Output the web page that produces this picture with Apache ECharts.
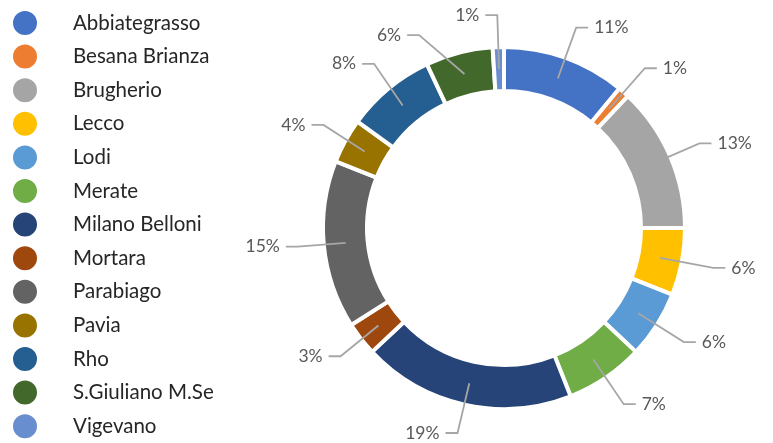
<!DOCTYPE html>
<html>
<head>
<meta charset="utf-8">
<script src="https://cdn.jsdelivr.net/npm/echarts@6/dist/echarts.min.js"></script>
<style>
  html, body { margin: 0; padding: 0; background: #ffffff; }
  #chart { width: 773px; height: 443px; }
</style>
</head>
<body>
<div id="chart"></div>
<script>
// Share of records per site (percent)
const categories = [
  'Abbiategrasso', 'Besana Brianza', 'Brugherio', 'Lecco', 'Lodi', 'Merate',
  'Milano Belloni', 'Mortara', 'Parabiago', 'Pavia', 'Rho', 'S.Giuliano M.Se', 'Vigevano'
];
const shares = [11, 1, 13, 6, 6, 7, 19, 3, 15, 4, 8, 6, 1];

const palette = [
  '#4472C4', '#ED7D31', '#A5A5A5', '#FFC000', '#5B9BD5', '#70AD47',
  '#264478', '#9E480E', '#636363', '#997300', '#255E91', '#43682B', '#698ED0'
];

const seriesData = categories.map((name, i) => ({ name, value: shares[i] }));
const FONT = 'Lato, "Open Sans", sans-serif';
const CENTER = [504, 228];

const chart = echarts.init(document.getElementById('chart'), null, { renderer: 'canvas' });
chart.setOption({
  animation: false,
  color: palette,
  legend: {
    orient: 'vertical',
    left: 11,
    top: 9,
    height: 470,
    padding: 0,
    icon: 'circle',
    itemWidth: 26,
    itemHeight: 26,
    itemGap: 5.6,
    data: categories,
    selectedMode: false,
    textStyle: {
      fontFamily: FONT,
      fontSize: 20.5,
      lineHeight: 22,
      color: '#262626',
      padding: [0, 0, 0, 30]
    }
  },
  series: [
    {
      // the ring itself
      type: 'pie',
      center: CENTER,
      radius: [137, 181],
      startAngle: 90,
      clockwise: true,
      silent: true,
      label: { show: false },
      labelLine: { show: false },
      itemStyle: { borderColor: '#ffffff', borderWidth: 4 },
      data: seriesData
    },
    {
      // invisible copy whose leader lines begin mid-ring
      type: 'pie',
      center: CENTER,
      radius: [137, 159],
      startAngle: 90,
      clockwise: true,
      silent: true,
      z: 5,
      avoidLabelOverlap: true,
      itemStyle: { color: 'rgba(0,0,0,0)' },
      label: {
        show: true,
        position: 'outer',
        formatter: '{c}%',
        fontFamily: FONT,
        fontSize: 17.5,
        color: '#595959',
        distanceToLabelLine: 6
      },
      labelLine: {
        show: true,
        length: 54,
        length2: 12,
        lineStyle: { color: '#a6a6a6', width: 1.8 }
      },
      data: seriesData
    }
  ]
});
</script>
</body>
</html>
